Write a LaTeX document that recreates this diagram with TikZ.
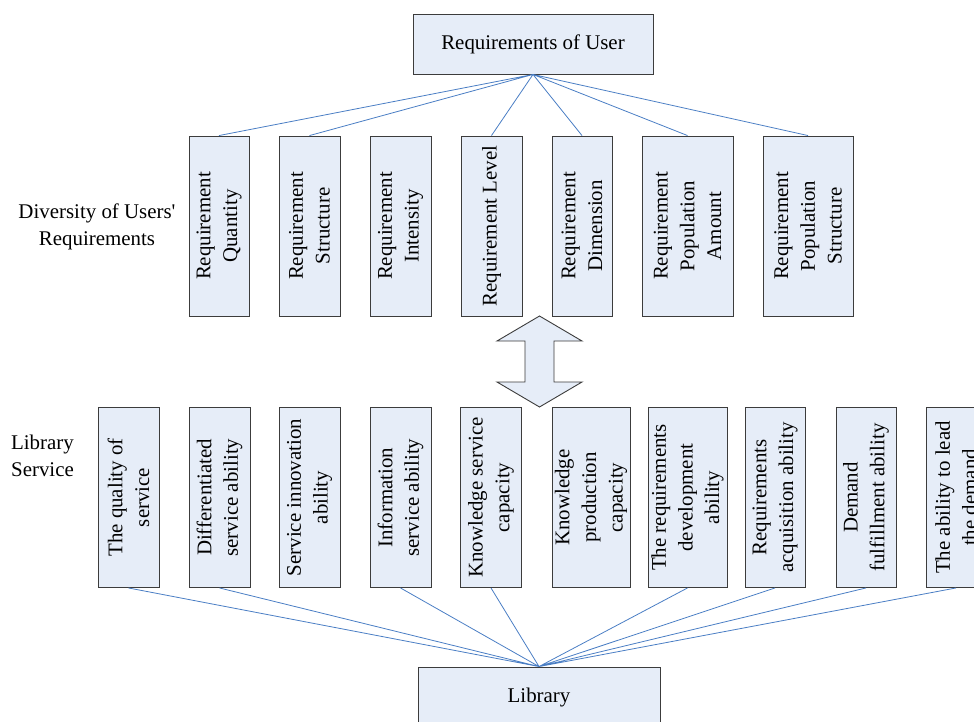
\documentclass[tikz,border=0pt]{standalone}
\usepackage{fontspec}
\setmainfont{Liberation Serif}
\usepackage{tikz}
\definecolor{boxfill}{RGB}{230,237,248}
\definecolor{boxline}{RGB}{60,60,60}
\definecolor{linkblue}{RGB}{74,126,196}
\newcommand{\bodyfont}{\fontsize{20.9}{26.7}\selectfont}
\newcommand{\upperbox}[4]{
    \node[rbox, minimum height=#3] (#1) at (#2,226) {#4};
}
\newcommand{\lowerbox}[4]{
    \node[rbox, minimum height=#3] (#1) at (#2,497.5) {#4};
}

\begin{document}
\begin{tikzpicture}[x=1pt, y=-1pt,
        hbox/.style={draw=boxline, fill=boxfill, line width=0.9pt, inner sep=0pt, font=\bodyfont},
        rbox/.style={hbox, rotate=90, minimum width=180, align=center},
        link/.style={draw=linkblue, line width=0.8pt}]
        \useasboundingbox (0,0) rectangle (974,721);
        \clip (0,0) rectangle (974,721);
        % top and bottom boxes
        \node[hbox, minimum width=240, minimum height=60] (user) at (533,44) {Requirements of User};
        \node[hbox, minimum width=242, minimum height=60] (lib) at (539,697) {Library};
        % side labels
        \node[font=\bodyfont, align=center] (div) at (97,227) {Diversity of Users\textquotesingle\\Requirements};
        \node[font=\bodyfont, align=center] (serv) at (42.5,456) {Library\\Service};
        % upper row
        \upperbox{r1}{219}{60}{Requirement\\Quantity}
        \upperbox{r2}{309.5}{61}{Requirement\\Structure}
        \upperbox{r3}{400.5}{61}{Requirement\\Intensity}
        \upperbox{r4}{491.5}{61}{Requirement Level}
        \upperbox{r5}{582}{60}{Requirement\\Dimension}
        \upperbox{r6}{687.5}{91}{Requirement\\Population\\Amount}
        \upperbox{r7}{808}{90}{Requirement\\Population\\Structure}
        % lower row
        \lowerbox{s1}{128.5}{61}{The quality of\\service}
        \lowerbox{s2}{219.5}{61}{Differentiated\\service ability}
        \lowerbox{s3}{309.5}{61}{Service innovation\\ability}
        \lowerbox{s4}{400.5}{61}{Information\\service ability}
        \lowerbox{s5}{491}{61}{Knowledge service\\capacity}
        \lowerbox{s6}{591}{78}{Knowledge\\production\\capacity}
        \lowerbox{s7}{687.5}{79}{The requirements\\development\\ability}
        \lowerbox{s8}{775}{60}{Requirements\\acquisition ability}
        \lowerbox{s9}{866}{60}{Demand\\fulfillment ability}
        \lowerbox{s10}{956}{60}{The ability to lead\\the demand}
        % two-way arrow between the rows
        \draw[hbox] (539.5,316) -- (582,341) -- (554,341) -- (554,382) -- (582,382)
            -- (539.5,407) -- (497,382) -- (525,382) -- (525,341) -- (497,341) -- cycle;
        % links
        \path[link] (user.south) -- (r1.east)
            (user.south) -- (r2.east)
            (user.south) -- (r4.east)
            (user.south) -- (r5.east)
            (user.south) -- (r6.east)
            (user.south) -- (r7.east);
        \path[link] (lib.north) -- (s1.west)
            (lib.north) -- (s2.west)
            (lib.north) -- (s4.west)
            (lib.north) -- (s5.west)
            (lib.north) -- (s7.west)
            (lib.north) -- (s8.west)
            (lib.north) -- (s9.west)
            (lib.north) -- (s10.west);
    \end{tikzpicture}
\end{document}
